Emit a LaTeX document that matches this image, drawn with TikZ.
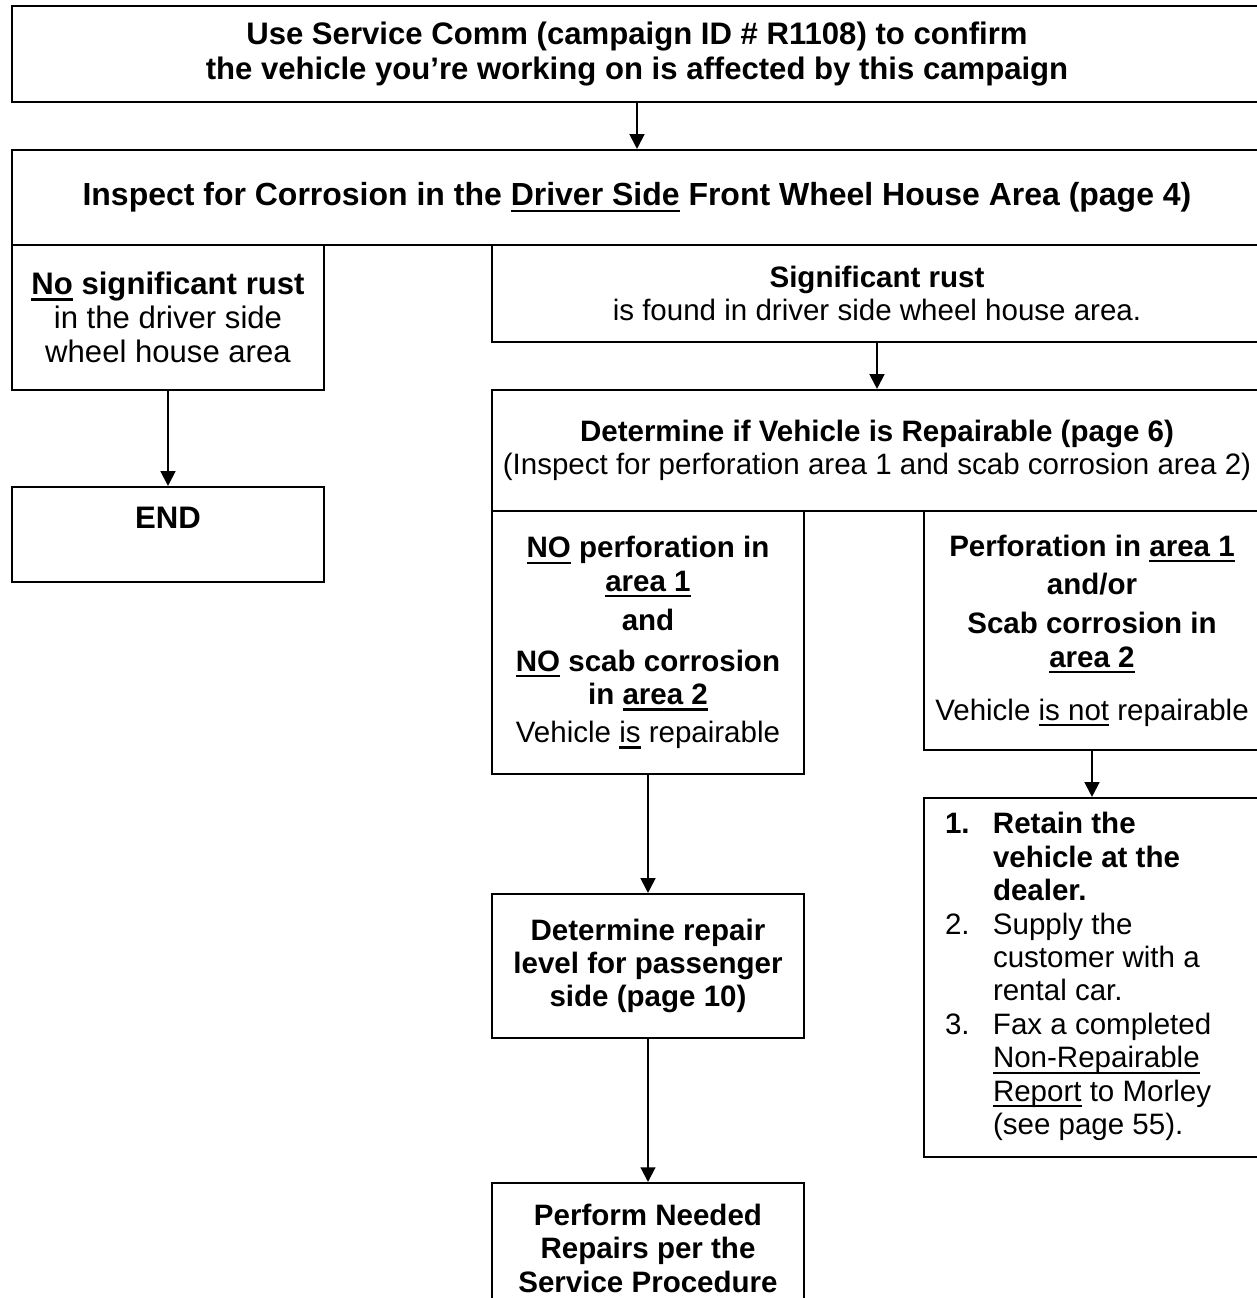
\documentclass[tikz,border=0pt]{standalone}
\usepackage{fontspec}
\setmainfont{Liberation Sans}
\usepackage{tikz}
\usetikzlibrary{positioning, arrows.meta}

\newcommand{\flowfont}{\fontsize{8.4}{9.5}\selectfont}
\newcommand{\bigflowfont}{\fontsize{8.85}{9.7}\selectfont}
\newcommand{\ulin}[1]{\leavevmode\setbox0\hbox{#1}\rlap{\rule[-1.7pt]{\wd0}{0.6pt}}\box0\relax}

\begin{document}
\begin{tikzpicture}[->,>={Triangle[width=4.2pt,length=4.2pt]},line width=0.6pt,
    box/.style={draw,-,inner sep=0pt,align=center,font=\flowfont},
    bbox/.style={box,font=\flowfont\bfseries}]

    \useasboundingbox (0,0) rectangle (12.57,-12.98);
    \clip (0,0) rectangle (12.57,-12.98);

    % top rows
    \node[box, font=\bigflowfont\bfseries, minimum width=12.5cm, minimum height=0.96cm] (comm) at (6.37,-0.54)
        {Use Service Comm (campaign ID \# R1108) to confirm\\the vehicle you’re working on is affected by this campaign};
    \node[box, font=\fontsize{9.1}{10.2}\selectfont\bfseries, minimum width=12.5cm, minimum height=0.95cm] (inspect) at (6.37,-1.975)
        {Inspect for Corrosion in the \ulin{Driver Side} Front Wheel House Area (page 4)};

    % left branch
    \node[box, font=\bigflowfont, minimum width=3.12cm, minimum height=1.45cm] (norust) at (1.68,-3.175)
        {\textbf{\ulin{No} significant rust}\\in the driver side\\wheel house area};
    \node[box, font=\bigflowfont\bfseries, minimum width=3.12cm, minimum height=0.95cm] (end) at (1.68,-5.345) {END\\\mbox{}};

    % right branch
    \node[box, minimum width=7.7cm, minimum height=0.97cm] (rust) at (8.77,-2.935)
        {\textbf{Significant rust}\\is found in driver side wheel house area.};
    \node[box, minimum width=7.7cm, minimum height=1.21cm] (repairable) at (8.77,-4.505)
        {\textbf{Determine if Vehicle is Repairable (page 6)}\\(Inspect for perforation area 1 and scab corrosion area 2)};

    \node[box, minimum width=3.12cm, minimum height=2.63cm] (noperf) at (6.48,-6.425)
        {\textbf{\ulin{NO} perforation in}\\\textbf{\ulin{area 1}}\\[1.6pt]
         \textbf{and}\\[2.2pt]\textbf{\ulin{NO} scab corrosion}\\\textbf{in \ulin{area 2}}\\[1.3pt]
         Vehicle \ulin{is} repairable};
    \node[box, minimum width=3.36cm, minimum height=2.39cm] (perf) at (10.92,-6.305)
        {\textbf{Perforation in \ulin{area 1}}\\[1.3pt]\textbf{and/or}\\[1.8pt]
         \textbf{Scab corrosion in}\\\textbf{\ulin{area 2}}\\[5.5pt]
         Vehicle \ulin{is not} repairable};

    \node[bbox, minimum width=3.12cm, minimum height=1.44cm] (level) at (6.48,-9.66)
        {Determine repair\\level for passenger\\side (page 10)};
    \node[bbox, anchor=north, minimum width=3.12cm, minimum height=1.3cm] (perform) at (6.48,-11.82)
        {Perform Needed\\Repairs per the\\Service Procedure};

    \node[box, minimum width=3.36cm, minimum height=3.59cm] (retain) at (10.92,-9.775)
        {\begin{tabular}{@{}p{0.48cm}@{}p{2.46cm}@{}}
         \textbf{1.} & \textbf{Retain the}\\
                     & \textbf{vehicle at the}\\
                     & \textbf{dealer.}\\
         2. & Supply the\\
            & customer with a\\
            & rental car.\\
         3. & Fax a completed\\
            & \ulin{Non-Repairable}\\
            & \ulin{Report} to Morley\\
            & (see page 55).
         \end{tabular}};

    % connectors
    \draw[->] (comm) to (inspect);
    \draw[->] (norust) to (end);
    \draw[->] (rust) to (repairable);
    \draw[->] (noperf) to (level);
    \draw[->] (level) to (perform);
    \draw[->] (perf) to (retain);

\end{tikzpicture}
\end{document}
